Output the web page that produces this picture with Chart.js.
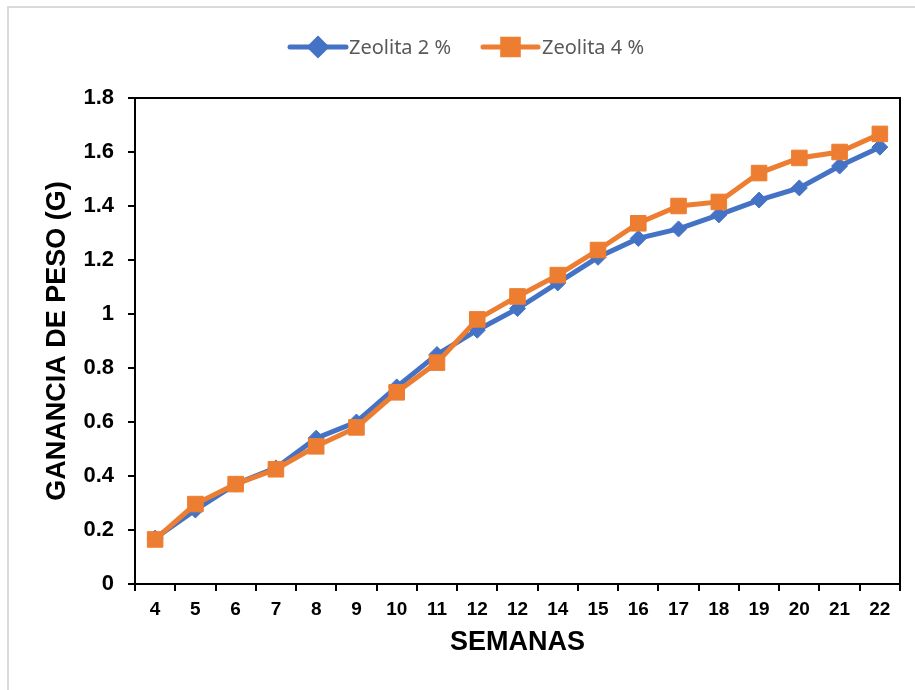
<!DOCTYPE html>
<html><head><meta charset="utf-8">
<script src="https://cdn.jsdelivr.net/npm/chart.js@4/dist/chart.umd.min.js"></script>
<style>html,body{margin:0;padding:0;background:#fff;}</style>
</head><body>
<canvas id="c" width="915" height="690" style="width:915px;height:690px;display:block"></canvas>
<script>
// ---- data ----
const categories = ['4','5','6','7','8','9','10','11','12','12','14','15','16','17','18','19','20','21','22'];
const zeolita2 = [0.17,0.274,0.37,0.43,0.54,0.60,0.73,0.85,0.94,1.02,1.115,1.21,1.28,1.315,1.367,1.422,1.467,1.548,1.618];
const zeolita4 = [0.165,0.296,0.37,0.425,0.51,0.58,0.71,0.82,0.98,1.065,1.144,1.237,1.336,1.40,1.415,1.522,1.578,1.60,1.667];
const seriesNames = ['Zeolita 2 %','Zeolita 4 %'];
const yMin = 0, yMax = 1.8, yStep = 0.2;

const BLUE = '#4472C4', ORANGE = '#ED7D31';
const FONT = "'Liberation Sans', Arial, sans-serif";

const framePlugin = {
  id: 'frame',
  beforeDraw(chart) {
    const ctx = chart.ctx;
    ctx.save();
    ctx.fillStyle = '#fff';
    ctx.fillRect(0, 0, chart.width, chart.height);
    ctx.strokeStyle = '#d9d9d9';
    ctx.lineWidth = 2;
    ctx.strokeRect(8, 7, chart.width + 10, chart.height + 10);
    ctx.restore();
  },
  afterDraw(chart) {
    const ctx = chart.ctx, a = chart.chartArea;
    ctx.save();
    ctx.strokeStyle = '#000';
    ctx.lineWidth = 2;
    ctx.beginPath();
    ctx.moveTo(a.left, a.top);
    ctx.lineTo(a.right, a.top);
    ctx.lineTo(a.right, a.bottom);
    ctx.stroke();
    // legend
    const items = [
      {x0: 290, x1: 346, color: BLUE, style: 'rectRot', r: 8, text: seriesNames[0], tx: 349},
      {x0: 483, x1: 538, color: ORANGE, style: 'rect', r: 11, text: seriesNames[1], tx: 542}
    ];
    const y = 47;
    items.forEach(it => {
      ctx.strokeStyle = it.color;
      ctx.lineWidth = 5;
      ctx.lineCap = 'round';
      ctx.beginPath();
      ctx.moveTo(it.x0, y);
      ctx.lineTo(it.x1, y);
      ctx.stroke();
      ctx.lineCap = 'butt';
      Chart.helpers.drawPoint(ctx, {pointStyle: it.style, radius: it.r, rotation: 0, borderWidth: 1}, (it.x0 + it.x1) / 2, y);
      ctx.fillStyle = it.color;
      ctx.fill();
      ctx.fillStyle = '#595959';
      ctx.font = "20px 'Noto Sans', sans-serif";
      ctx.textBaseline = 'middle';
      ctx.textAlign = 'left';
      ctx.fillText(it.text, it.tx, y + 1);
    });
    ctx.restore();
  }
};

new Chart(document.getElementById('c'), {
  type: 'line',
  data: {
    labels: categories,
    datasets: [
      {label: seriesNames[0], data: zeolita2, borderColor: BLUE, backgroundColor: BLUE,
       borderWidth: 5, pointStyle: 'rectRot', pointRadius: 8, pointBorderWidth: 1,
       pointBackgroundColor: BLUE, pointBorderColor: BLUE, order: 2, tension: 0},
      {label: seriesNames[1], data: zeolita4, borderColor: ORANGE, backgroundColor: ORANGE,
       borderWidth: 5, pointStyle: 'rect', pointRadius: 11, pointBorderWidth: 1,
       pointBackgroundColor: ORANGE, pointBorderColor: ORANGE, order: 1, tension: 0}
    ]
  },
  options: {
    responsive: false,
    devicePixelRatio: 1,
    animation: false,
    layout: {padding: {top: 98, right: 15, bottom: 0, left: 0}},
    plugins: {legend: {display: false}, tooltip: {enabled: false}},
    scales: {
      x: {
        type: 'category',
        offset: true,
        grid: {offset: true, drawOnChartArea: false, drawTicks: true, tickLength: 7, color: '#000', lineWidth: 2},
        border: {display: true, color: '#000', width: 2},
        ticks: {font: {family: FONT, weight: 'bold', size: 19}, color: '#000', padding: 7, maxRotation: 0, autoSkip: false},
        title: {display: true, text: 'SEMANAS', color: '#000', font: {family: FONT, weight: 'bold', size: 27}, padding: {top: 0, bottom: 31}},
        afterFit(s) { s.height = 106; }
      },
      y: {
        min: yMin, max: yMax,
        grid: {drawOnChartArea: false, drawTicks: true, tickLength: 7, color: '#000', lineWidth: 2},
        border: {display: true, color: '#000', width: 2},
        ticks: {stepSize: yStep, font: {family: FONT, weight: 'bold', size: 22}, color: '#000', padding: 14,
                callback: v => String(Number(v.toFixed(1)))},
        title: {display: true, text: 'GANANCIA DE PESO (G)', color: '#000', font: {family: FONT, weight: 'bold', size: 27}, padding: {top: 41, bottom: 0}},
        afterFit(s) { s.width = 135; }
      }
    }
  },
  plugins: [framePlugin]
});
</script>
</body></html>
